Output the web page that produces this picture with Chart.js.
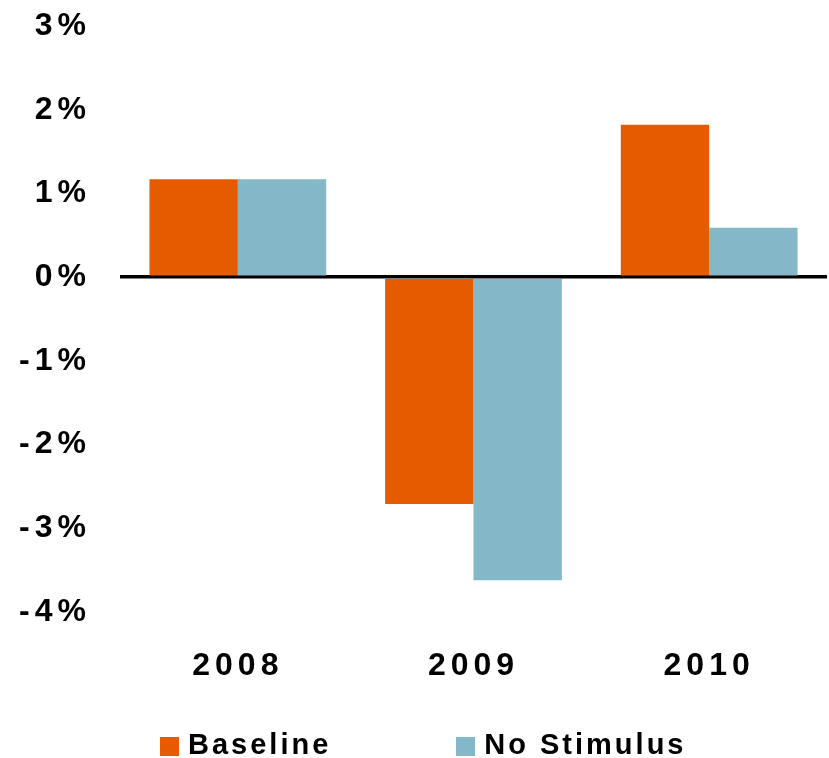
<!DOCTYPE html>
<html>
<head>
<meta charset="utf-8">
<script src="https://cdn.jsdelivr.net/npm/chart.js@4"></script>
<style>
    body { margin: 0; background: #fff; }
    #wrap { position: relative; width: 829px; height: 758px; }
    #legend {
        position: absolute; left: 160px; top: 730px;
        display: flex; font: bold 29px "Liberation Sans", Arial, sans-serif;
        letter-spacing: 3px; line-height: 29px; color: #000;
    }
    #legend .item { display: flex; align-items: center; margin-right: 125px; }
    #legend .box { width: 19px; height: 19px; margin-right: 9px; position: relative; top: 2px; }
</style>
</head>
<body>
<div id="wrap">
    <canvas id="growthChart" width="829" height="758"></canvas>
    <div id="legend"></div>
</div>
<script>
// Categories, series and ticks
const years = ['2008', '2009', '2010'];
const baseline = [1.17, -2.71, 1.82];
const noStimulus = [1.17, -3.62, 0.59];
const yTicks = [-4, -3, -2, -1, 0, 1, 2, 3];

const ORANGE = '#E55B00';
const BLUE = '#84B7C8';

// canvas text gets the same wide tracking as the axis labels
const spacing = {
    id: 'spacing',
    beforeLayout(chart) { chart.ctx.letterSpacing = '5px'; },
    beforeDraw(chart) { chart.ctx.letterSpacing = '5px'; }
};

// Legend built as html under the canvas
const htmlLegend = {
    id: 'htmlLegend',
    afterUpdate(chart) {
        const el = document.getElementById('legend');
        el.innerHTML = '';
        chart.data.datasets.forEach(ds => {
            const item = document.createElement('div');
            item.className = 'item';
            const box = document.createElement('span');
            box.className = 'box';
            box.style.background = ds.backgroundColor;
            const txt = document.createElement('span');
            txt.textContent = ds.label;
            item.appendChild(box);
            item.appendChild(txt);
            el.appendChild(item);
        });
    }
};

const ctx = document.getElementById('growthChart').getContext('2d');
const growthChart = new Chart(ctx, {
    type: 'bar',
    data: {
        labels: years,
        datasets: [
            { label: 'Baseline', data: baseline, backgroundColor: ORANGE },
            { label: 'No Stimulus', data: noStimulus, backgroundColor: BLUE }
        ]
    },
    options: {
        responsive: false,
        animation: false,
        categoryPercentage: 0.75,
        barPercentage: 1,
        layout: { padding: { top: 0, right: 2, left: 0, bottom: 0 } },
        scales: {
            x: {
                grid: { display: false },
                border: { display: false },
                ticks: {
                    color: '#000',
                    padding: 27,
                    maxRotation: 0,
                    font: { family: '"Liberation Sans", Arial, sans-serif', size: 32, weight: 'bold' }
                },
                afterFit(scale) { scale.height = 146; }
            },
            y: {
                min: -4,
                max: 3,
                z: 1,
                afterBuildTicks(scale) { scale.ticks = yTicks.map(v => ({ value: v })); },
                grid: {
                    drawTicks: false,
                    lineWidth: 3.5,
                    color: c => (c.tick && c.tick.value === 0) ? '#000' : 'rgba(0,0,0,0)'
                },
                border: { display: false },
                ticks: {
                    color: '#000',
                    padding: 29,
                    callback: v => v + '%',
                    font: { family: '"Liberation Sans", Arial, sans-serif', size: 32, weight: 'bold' }
                },
                afterFit(scale) {
                    scale.width = 120;
                    // top label only needs half its height above the plot
                    scale.paddingTop = 26;
                    scale.paddingBottom = 20;
                }
            }
        },
        plugins: {
            legend: { display: false },
            tooltip: { enabled: false }
        }
    },
    plugins: [spacing, htmlLegend]
});
</script>
</body>
</html>
